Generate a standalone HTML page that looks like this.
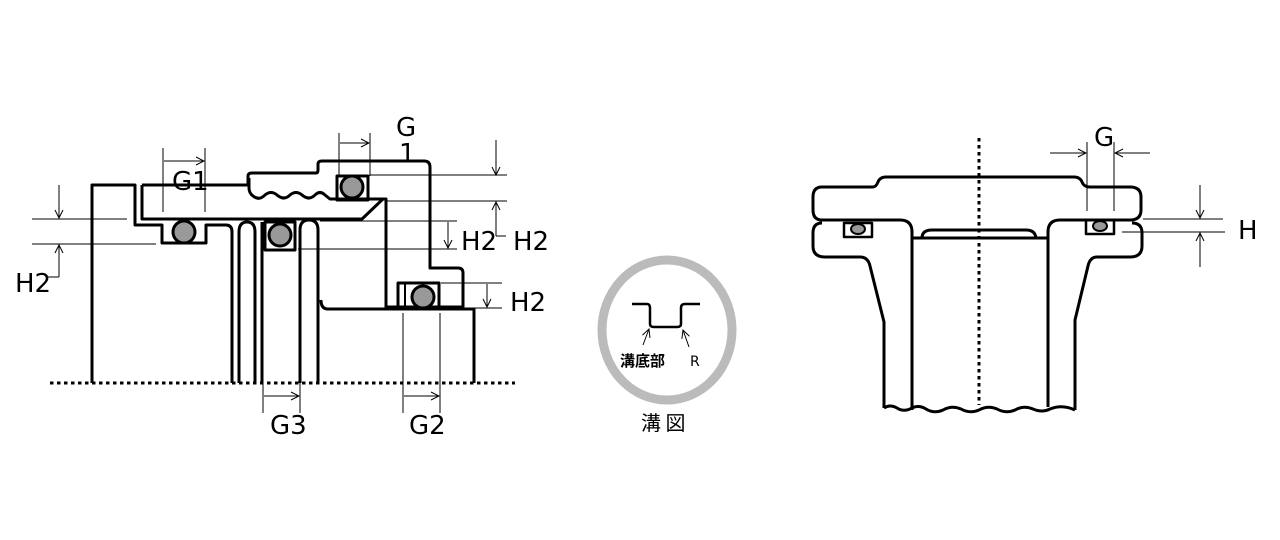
<!DOCTYPE html>
<html><head><meta charset="utf-8"><style>
html,body{margin:0;padding:0;background:#fff;}
svg{display:block;}
text{font-family:"DejaVu Sans","Liberation Sans","Noto Sans CJK JP",sans-serif;fill:#000;}
</style></head><body>
<svg width="1280" height="540" viewBox="0 0 1280 540" xmlns="http://www.w3.org/2000/svg">
<defs>
<marker id="a" markerWidth="10" markerHeight="10" refX="9" refY="5" orient="auto" markerUnits="userSpaceOnUse">
<path d="M1,1 L9,5 L1,9" fill="none" stroke="#000" stroke-width="1"/></marker>
</defs>
<g fill="none" stroke="#000" stroke-width="3" stroke-linejoin="round">
<!-- left diagram -->
<path d="M92,383 V185 H135 V225 H162 V243 H206 V225 H226 Q232,225 232,232 V383"/>
<path d="M239,383 V232 Q239,222 247,222 Q255,222 255,232 V383"/>
<path d="M262,383 V222"/>
<path d="M300,383 V230 Q300,220 309,220 Q318,220 318,230 V383"/>
<path d="M142,185 V219 H362 L383,199"/>
<path d="M142,185 H248 V176 Q248,173 252,173 H316 Q318,173 318,170 V164 Q318,161 322,161 H424 Q430,161 430,167 V268 H458 Q463,268 463,273 V307 H386 V199 H336"/>
<path d="M336,199 H330 L325,195 Q320,190 315,195 Q309,201 302,195 Q296,190 290,195 Q284,201 277,195 Q271,190 265,195 Q259,201 253,196 Q249,193 249,188 V178"/>
<path d="M321,300 Q321,309 328,309 H474 V383"/>
<rect x="337" y="176" width="31" height="24"/>
<rect x="265" y="222" width="30" height="28"/>
<rect x="398" y="283" width="41" height="24"/>
<path d="M405,283 V307" stroke-width="2"/>
<!-- right diagram -->
<path d="M822,187 H873 Q876,187 878,182 Q880,177 886,177 H1074 Q1080,177 1082,182 Q1084,187 1090,187 H1130 Q1141,187 1141,197 V210 Q1141,220 1130,220 H1060 Q1048,220 1048,232 V407"/>
<path d="M822,187 Q813,187 813,197 V210 Q813,220 822,220 H900 Q912,220 912,232 V410"/>
<path d="M822,223 Q813,223 813,233 V246 Q813,257 825,257 H860 Q868,257 870,266 L884,322 V408"/>
<path d="M1132,223 Q1142,223 1142,233 V246 Q1142,257 1130,257 H1097 Q1090,257 1088,266 L1075,320 V410"/>
<path d="M912,238 H1047"/>
<path d="M922,238 Q922,230 932,230 H1026 Q1035,230 1036,238"/>
<path d="M884,408 Q890,404 897,408 Q903,412 910,409 Q918,404 926,409 Q934,414 943,410 Q952,405 961,409 Q970,414 979,410 Q988,405 997,409 Q1006,414 1015,410 Q1024,405 1033,409 Q1042,413 1050,409 Q1062,404 1075,410"/>
<rect x="844" y="223" width="28" height="14" stroke-width="2.5"/>
<rect x="1086" y="220" width="28" height="14" stroke-width="2.5"/>
</g>
<!-- O-rings -->
<g fill="#999" stroke="#000" stroke-width="3">
<circle cx="352" cy="187" r="11"/>
<circle cx="280" cy="235" r="11"/>
<circle cx="184" cy="232" r="11"/>
<circle cx="423" cy="297" r="11"/>
<ellipse cx="858" cy="229" rx="7" ry="5" stroke-width="2"/>
<ellipse cx="1100" cy="226" rx="7" ry="5" stroke-width="2"/>
</g>
<!-- dotted lines -->
<path d="M50,383 H515" stroke="#000" stroke-width="3" stroke-dasharray="3.5,3.5"/>
<path d="M979,138 V405" stroke="#000" stroke-width="3" stroke-dasharray="3.5,3.5"/>
<!-- dimension lines -->
<g stroke="#000" stroke-width="1" fill="none">
<path d="M163,148 V212 M205,148 V212"/>
<path d="M184,161 H164 M184,161 H204" marker-end="url(#a)"/>
<path d="M339,133 V176 M370,133 V176"/>
<path d="M354,143 H340 M354,143 H369" marker-end="url(#a)"/>
<path d="M370,175 H507 M386,201 H507 M320,221 H457 M298,249 H457"/>
<path d="M496,140 V175" marker-end="url(#a)"/>
<path d="M496,236 V202" marker-end="url(#a)"/>
<path d="M496,236 H506"/>
<path d="M448,235 V222 M448,235 V248" marker-end="url(#a)"/>
<path d="M441,283 H502 M467,308 H502"/>
<path d="M487,296 V284 M487,296 V307" marker-end="url(#a)"/>
<path d="M32,219 H127 M32,244 H156"/>
<path d="M59,185 V218" marker-end="url(#a)"/>
<path d="M59,277 V245" marker-end="url(#a)"/>
<path d="M59,277 H48"/>
<path d="M263,383 V413 M300,383 V413"/>
<path d="M281,396 H264 M281,396 H299" marker-end="url(#a)"/>
<path d="M403,313 V413 M440,313 V413"/>
<path d="M421,396 H404 M421,396 H439" marker-end="url(#a)"/>
<!-- right diagram dims -->
<path d="M1087,142 V211 M1114,142 V211"/>
<path d="M1050,153 H1086" marker-end="url(#a)"/>
<path d="M1150,153 H1115" marker-end="url(#a)"/>
<path d="M1143,219 H1223 M1122,232 H1225"/>
<path d="M1200,185 V218" marker-end="url(#a)"/>
<path d="M1200,267 V233" marker-end="url(#a)"/>
</g>
<!-- labels -->
<g font-size="26">
<text x="172" y="190">G1</text>
<text x="396" y="136">G</text>
<text x="399" y="162">1</text>
<text x="461" y="250">H2</text>
<text x="513" y="250">H2</text>
<text x="510" y="311">H2</text>
<text x="15" y="292">H2</text>
<text x="270" y="434">G3</text>
<text x="409" y="434">G2</text>
<text x="1094" y="146">G</text>
<text x="1238" y="239">H</text>
</g>
<!-- groove inset -->
<ellipse cx="667" cy="330" rx="65" ry="70" fill="none" stroke="#bbb" stroke-width="9"/>
<path d="M632,304 H647 Q650,304 650,308 V324 Q650,327 654,327 H677 Q681,327 681,324 V308 Q681,304 685,304 H700" fill="none" stroke="#000" stroke-width="2.5"/>
<path d="M643,345 L649,329" stroke="#000" stroke-width="1" marker-end="url(#a)"/>
<path d="M689,347 L683,330" stroke="#000" stroke-width="1" marker-end="url(#a)"/>
<text x="620" y="366" font-size="15" font-weight="bold" style="font-family:'Noto Sans CJK JP',sans-serif">溝底部</text>
<text x="690" y="366" font-size="14">R</text>
<text x="641" y="430" font-size="20" style="font-family:'Noto Sans CJK JP',sans-serif">溝 図</text>
</svg>
</body></html>
